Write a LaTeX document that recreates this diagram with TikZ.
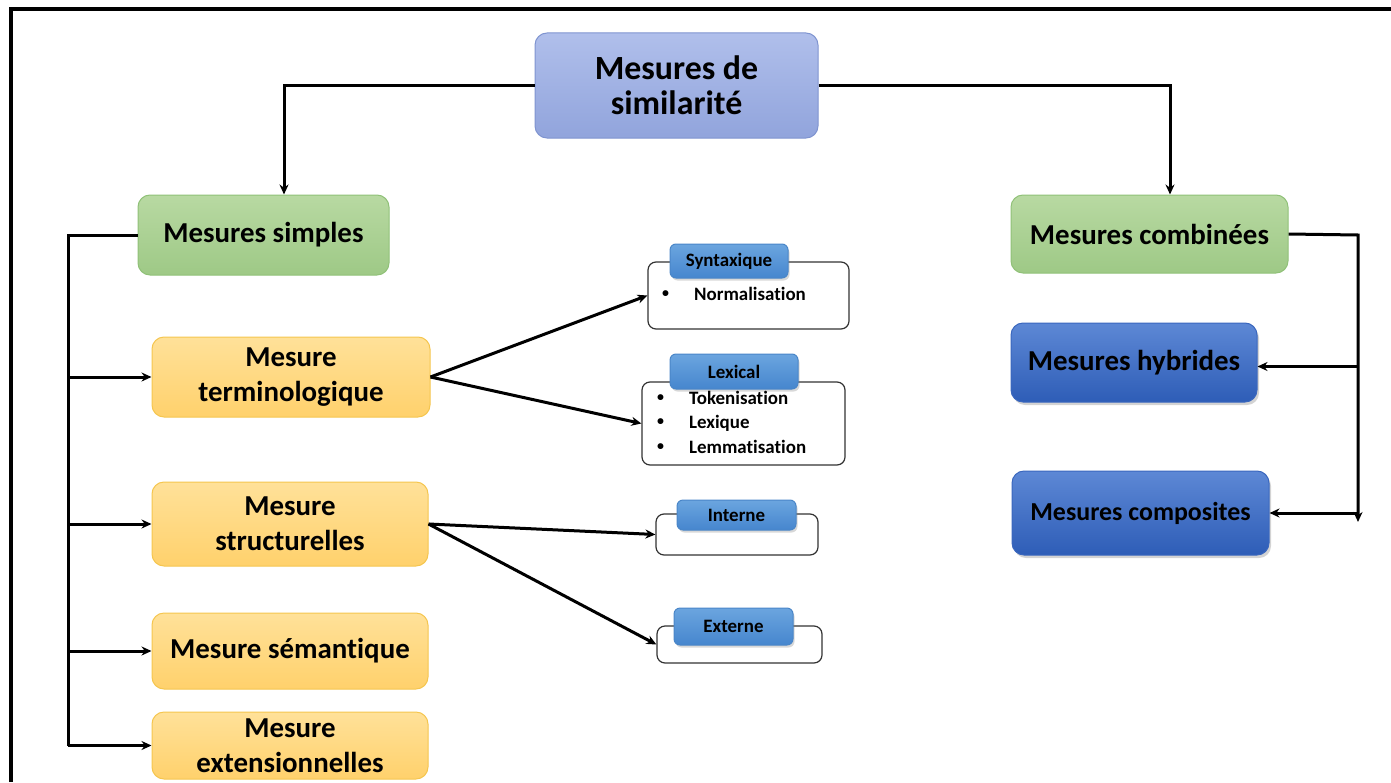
\documentclass[tikz,border=0pt]{standalone}
\usepackage{fontspec}
\setmainfont{Carlito}[Ligatures=NoCommon]
\usetikzlibrary{arrows.meta,shadows,calc}

\definecolor{roottop}{HTML}{B0BFEB}
\definecolor{rootbot}{HTML}{91A4DC}
\definecolor{rootline}{HTML}{7F94D0}
\definecolor{greentop}{HTML}{B8D9A2}
\definecolor{greenbot}{HTML}{9EC986}
\definecolor{greenline}{HTML}{90C178}
\definecolor{yeltop}{HTML}{FFE199}
\definecolor{yelbot}{HTML}{FFD16C}
\definecolor{yelline}{HTML}{F5C64F}
\definecolor{tabtop}{HTML}{6BA5DF}
\definecolor{tabbot}{HTML}{4686CE}
\definecolor{tabline}{HTML}{4A86C8}
\definecolor{deeptop}{HTML}{5D88D5}
\definecolor{deepbot}{HTML}{2E5DB7}
\definecolor{deepline}{HTML}{3A67BE}

\newcommand{\itembullet}{\raisebox{3bp}{\fontsize{14}{14}\selectfont\textbullet}}

\begin{document}
\begin{tikzpicture}[x=1bp,y=-1bp,
  box/.style={rectangle, rounded corners=12bp, draw, line width=1bp,
    align=center, inner sep=0pt},
  rootbox/.style={box, draw=rootline, top color=roottop, bottom color=rootbot,
    font=\fontsize{34}{35}\selectfont\bfseries},
  greenbox/.style={box, draw=greenline, top color=greentop, bottom color=greenbot,
    font=\fontsize{29}{33}\selectfont\bfseries},
  yelbox/.style={box, draw=yelline, top color=yeltop, bottom color=yelbot,
    font=\fontsize{29}{35}\selectfont\bfseries},
  deepbox/.style={box, draw=deepline, top color=deeptop, bottom color=deepbot,
    drop shadow={shadow xshift=2bp, shadow yshift=-3bp, opacity=0.35},
    font=\fontsize{29}{33}\selectfont\bfseries},
  panel/.style={rectangle, rounded corners=8bp, draw=black!80, line width=1.2bp, fill=white},
  tabbox/.style={box, rounded corners=6bp, draw=tabline, top color=tabtop, bottom color=tabbot,
    drop shadow={shadow xshift=1.5bp, shadow yshift=-2.5bp, opacity=0.3},
    font=\fontsize{19}{21}\selectfont\bfseries},
  items/.style={anchor=west, inner sep=0pt, align=left,
    font=\fontsize{19}{24.5}\selectfont\bfseries},
  wire/.style={line width=3bp, black},
  arrow/.style={wire, -{Stealth[length=10bp,width=9bp]}}
]
\useasboundingbox (0,0) rectangle (1391,782);

% outer frame (top and left edges)
\draw[line width=4.5bp] (11,782) -- (11,9) -- (1391,9);

% main hierarchy
\node[rootbox, minimum width=283bp, minimum height=105bp] (root) at (676.5,85.5) {Mesures de\\similarité};
\node[greenbox, minimum width=251bp, minimum height=80bp] (simp) at (263.5,235) {Mesures simples};
\node[greenbox, minimum width=277bp, minimum height=78bp] (comb) at (1149.5,234) {Mesures combinées};

\node[yelbox, minimum width=278bp, minimum height=80bp] (term) at (291,377) {Mesure\\terminologique};
\node[yelbox, minimum width=276bp, minimum height=84bp] (struc) at (290,524) {Mesure\\structurelles};
\node[yelbox, minimum width=276bp, minimum height=76bp] (sem) at (290,651) {Mesure sémantique};
\node[yelbox, minimum width=276bp, minimum height=67bp] (ext) at (290,745.5) {Mesure\\extensionnelles};

\node[deepbox, minimum width=246bp, minimum height=79bp] (hyb) at (1134,362.5) {Mesures hybrides};
\node[deepbox, minimum width=257bp, minimum height=84bp, font=\fontsize{26}{30}\selectfont\bfseries] (comp) at (1140.5,513) {Mesures composites};

% detail panels with their title tabs
\node[panel, minimum width=201bp, minimum height=67bp] (synp) at (748.5,295.5) {};
\node[tabbox, minimum width=118bp, minimum height=34bp] (syn) at (729,261) {Syntaxique};
\node[items] (synl) at (662,296) {\begin{tabular}{@{}l@{\hspace{25bp}}l@{}}\itembullet & Normalisation\end{tabular}};

\node[panel, minimum width=203bp, minimum height=83bp] (lexp) at (743.5,423.5) {};
\node[tabbox, minimum width=128bp, minimum height=35bp] (lex) at (734,371.5) {Lexical};
\node[items] (lexl) at (657,424) {\begin{tabular}{@{}l@{\hspace{25bp}}l@{}}\itembullet & Tokenisation\\ \itembullet & Lexique\\ \itembullet & Lemmatisation\end{tabular}};

\node[panel, minimum width=162bp, minimum height=41bp] (intp) at (737,534.5) {};
\node[tabbox, minimum width=119bp, minimum height=30bp] (int) at (736.5,515) {Interne};

\node[panel, minimum width=165bp, minimum height=37bp] (extp) at (739.5,644.5) {};
\node[tabbox, minimum width=119bp, minimum height=37bp] (exn) at (733.5,626.5) {Externe};

% top-level connectors
\draw[arrow] (root.west) -| ([xshift=20.5bp]simp.north);
\draw[arrow] (root.east) -| ([xshift=20.5bp]comb.north);

% left trunk
\coordinate (lx) at (68,235);
\draw[wire] (simp.west) -- (lx) -- (lx |- ext.west);
\draw[arrow] (lx |- term.west) -- (term.west);
\draw[arrow] (lx |- struc.west) -- (struc.west);
\draw[arrow] (lx |- sem.west) -- (sem.west);
\draw[arrow] (lx |- ext.west) -- (ext.west);

% right trunk
\coordinate (rx) at (1358,235);
\coordinate (rend) at (1358,522);
\draw[arrow] (comb.east) -- (rx) -- (rend);
\draw[arrow] ([yshift=-4bp]rx |- hyb.east) -- ([yshift=-4bp]hyb.east);
\draw[arrow] (rx |- comp.east) -- (comp.east);

% detail connectors
\draw[arrow] (term.east) -- (synp.west);
\draw[arrow] (term.east) -- (lexp.west);
\draw[arrow] (struc.east) -- (intp.west);
\draw[arrow] (struc.east) -- (extp.west);
\end{tikzpicture}
\end{document}
